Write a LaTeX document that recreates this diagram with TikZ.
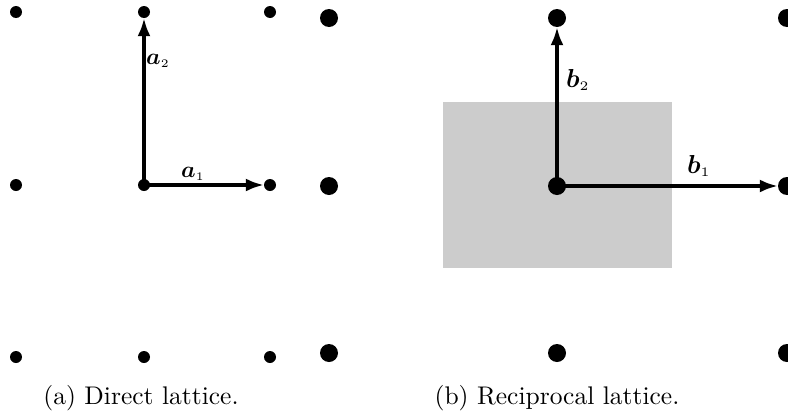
\documentclass[tikz,border=0pt]{standalone}
\usepackage{amsmath,bm}
\usetikzlibrary{arrows.meta}
\definecolor{cellgray}{HTML}{CCCCCC}
\tikzset{
  smalldot/.style={circle,fill=black,inner sep=0pt,minimum size=12pt},
  bigdot/.style={circle,fill=black,inner sep=0pt,minimum size=18pt},
  vec/.style={line width=3.2pt,-{Latex[length=18pt,width=13pt]}},
  veclabel/.style={inner sep=0pt},
  captiontext/.style={anchor=base,scale=2.55}
}
\begin{document}
\begin{tikzpicture}[x=1pt,y=-1pt]
\useasboundingbox (0,0) rectangle (788,418);
% reciprocal cell
\fill[cellgray] (443,102) rectangle (672,268);
% direct lattice
\foreach \i/\x in {1/16,2/144,3/270}{
  \foreach \j/\y in {1/12,2/185,3/357}{
    \node[smalldot] (a\i\j) at (\x,\y) {};
  }
}
% reciprocal lattice
\foreach \i/\x in {1/329,2/557,3/787}{
  \foreach \j/\y in {1/18,2/186,3/353}{
    \node[bigdot] (b\i\j) at (\x,\y) {};
  }
}
\draw[vec] (a22.center) -- (a32);
\draw[vec] (a22.center) -- (a21);
\draw[vec] (b22.center) -- (b32);
\draw[vec] (b22.center) -- (b21);
\node[veclabel,scale=2.3] (la2) at (158,61) {$\bm{a}_{\scriptscriptstyle 2}$};
\node[veclabel,scale=2.3] (la1) at (193,174) {$\bm{a}_{\scriptscriptstyle 1}$};
\node[veclabel,scale=2.6] (lb2) at (578,80) {$\bm{b}_{\scriptscriptstyle 2}$};
\node[veclabel,scale=2.6] (lb1) at (699,166) {$\bm{b}_{\scriptscriptstyle 1}$};
\node[captiontext] (ca) at (141,404) {(a) Direct lattice.};
\node[captiontext] (cb) at (557,404) {(b) Reciprocal lattice.};
\end{tikzpicture}
\end{document}
